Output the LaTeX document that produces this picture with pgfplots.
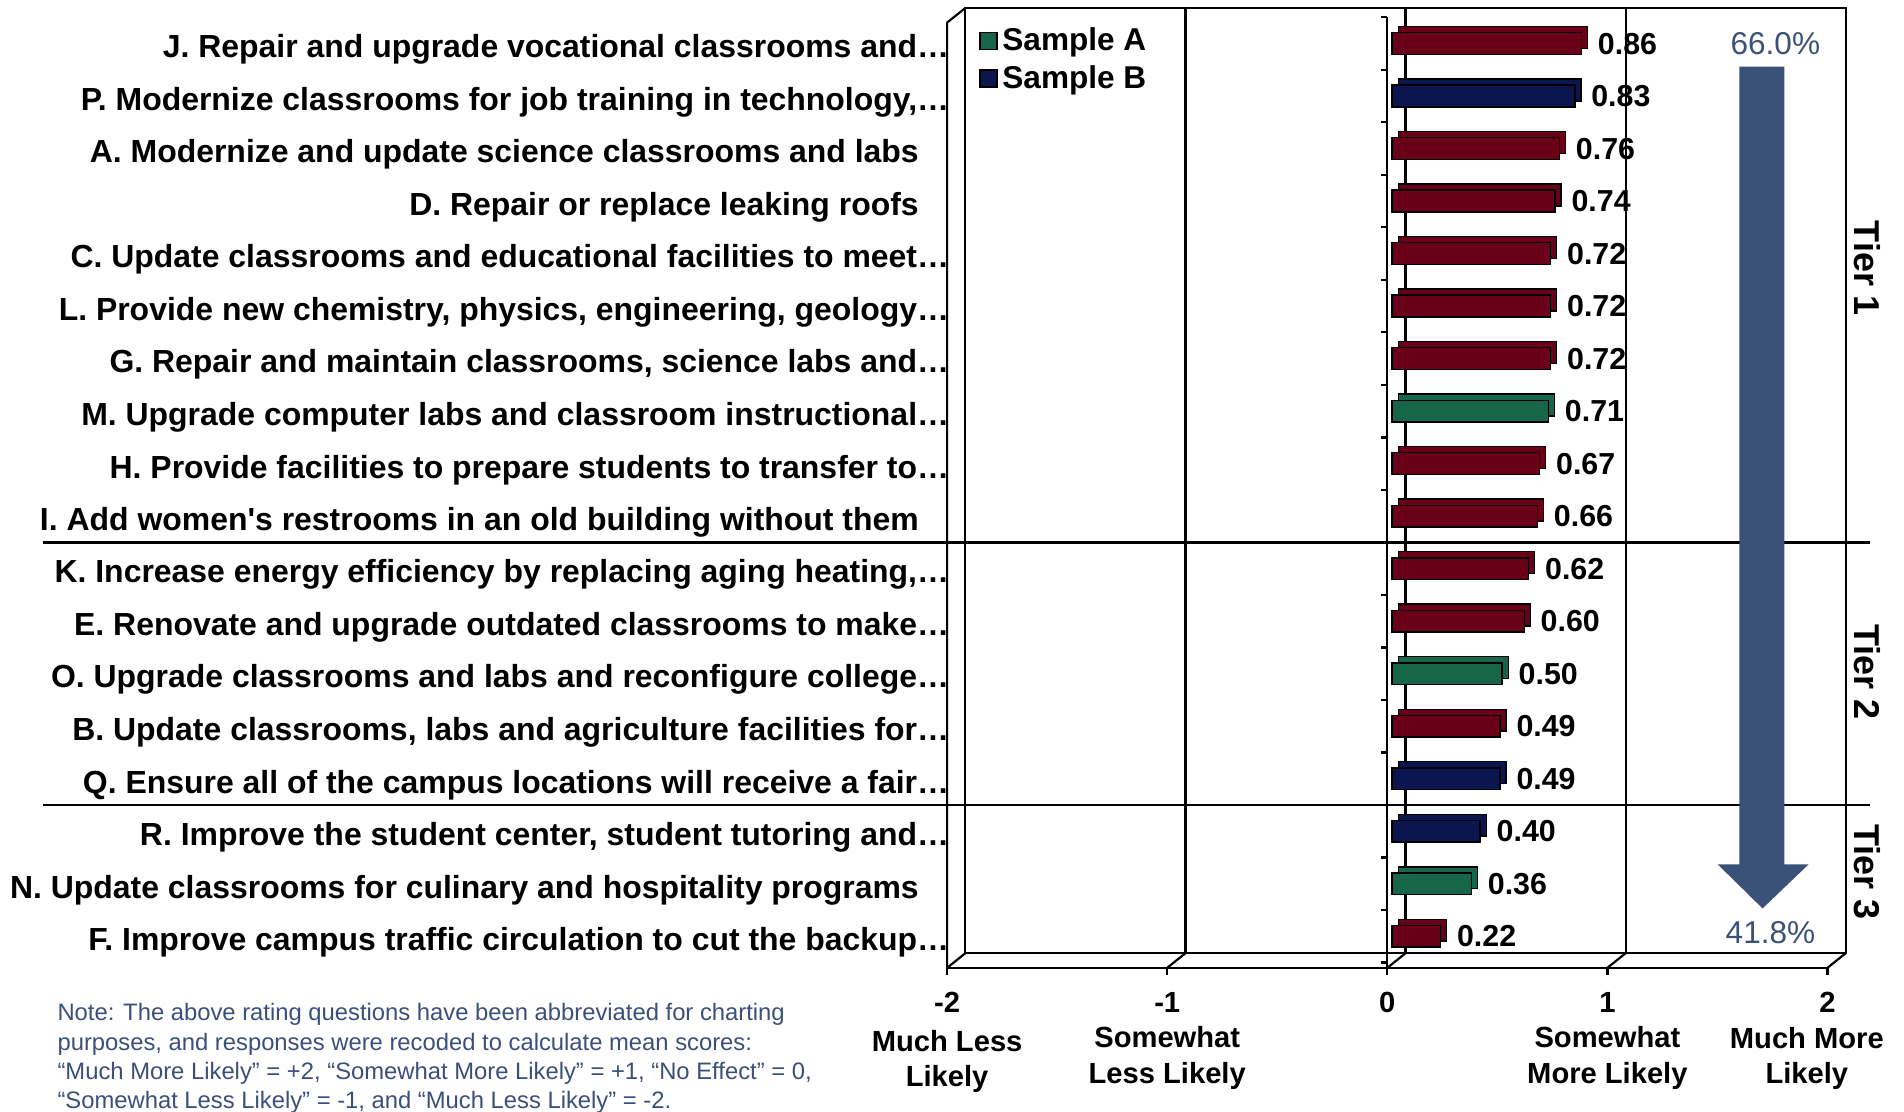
\documentclass[border=0pt]{standalone}
\usepackage{pgfplots}
\pgfplotsset{compat=1.18}
\usepackage{pgfplotstable}
\usetikzlibrary{calc}
\usepackage{fontspec}
\setmainfont{Liberation Sans}
\newfontfamily\nolig{Liberation Sans}
\definecolor{barred}{HTML}{6A0018}
\definecolor{bargreen}{HTML}{17664A}
\definecolor{barblue}{HTML}{0B1650}
\definecolor{slate}{HTML}{3A5278}
\definecolor{notecol}{HTML}{3A4F7A}
\pgfplotstableread{
v r
0.86 0
0.76 2
0.74 3
0.72 4
0.72 5
0.72 6
0.67 8
0.66 9
0.62 10
0.60 11
0.49 13
0.22 17
}\redtab
\pgfplotstableread{
v r
0.71 7
0.50 12
0.36 16
}\greentab
\pgfplotstableread{
v r
0.83 1
0.49 14
0.40 15
}\bluetab
\newcommand{\bk}[2]{($(axis cs:#1,#2)+(7.5pt,6pt)$)}
\begin{document}
\begin{tikzpicture}
\path[use as bounding box] (-390pt,-59pt) rectangle (394pt,398.5pt);
\begin{axis}[
  at={(0pt,0pt)}, anchor=south west,
  scale only axis, width=362.5pt, height=389.2pt,
  xmin=-2, xmax=2, ymin=-0.4, ymax=17.6, y dir=reverse,
  axis line style={draw=none}, tick style={draw=none},
  major tick length=0pt,
  clip=false,
  /pgf/number format/assume math mode=true,
  xtick={-2,-1,0,1,2},
  xticklabels={{-2\\[1.5pt]Much Less\\Likely},{-1\\Somewhat\\Less Likely},{0},{1\\Somewhat\\More Likely},{2\\Much More\rule{17pt}{0pt}\\Likely\rule{17pt}{0pt}}},
  xticklabel style={align=center, anchor=north, inner sep=0pt, yshift=-10pt, font=\bfseries\fontsize{12}{14.5}\selectfont},
  ytick={0,...,17},
  yticklabels={
    {J. Repair and upgrade vocational classrooms and…},
    {P. Modernize classrooms for job training in technology,…},
    {A. Modernize and update science classrooms and labs\rule{12.5pt}{0pt}},
    {D. Repair or replace leaking roofs\rule{12.5pt}{0pt}},
    {C. Update classrooms and educational facilities to meet…},
    {L. Provide new chemistry, physics, engineering, geology…},
    {G. Repair and maintain classrooms, science labs and…},
    {M. Upgrade computer labs and classroom instructional…},
    {H. Provide facilities to prepare students to transfer to…},
    {I. Add women{\nolig'}s restrooms in an old building without them\rule{12.5pt}{0pt}},
    {K. Increase energy efficiency by replacing aging heating,…},
    {E. Renovate and upgrade outdated classrooms to make…},
    {O. Upgrade classrooms and labs and reconfigure college…},
    {B. Update classrooms, labs and agriculture facilities for…},
    {Q. Ensure all of the campus locations will receive a fair…},
    {R. Improve the student center, student tutoring and…},
    {N. Update classrooms for culinary and hospitality programs\rule{12.5pt}{0pt}},
    {F. Improve campus traffic circulation to cut the backup…}},
  yticklabel style={anchor=east, inner sep=0pt, xshift=1pt, yshift=-2.5pt, font=\bfseries\fontsize{13.15}{15}\selectfont},
  legend style={at={(axis cs:-1.857,-0.4)}, anchor=north west, draw=none, fill=none,
    inner sep=0pt, font=\bfseries\fontsize{13}{15}\selectfont, row sep=0.5pt,
    /tikz/every even column/.append style={column sep=4pt}},
  legend image code/.code={\draw[#1,draw=black,line width=0.6pt] (0pt,-3.5pt) rectangle (7pt,3.5pt);},
  legend cell align=left,
]
% back wall and floor
\draw[line width=0.9pt] \bk{-2}{17.6} rectangle \bk{2}{-0.4};
\draw[line width=0.9pt] \bk{-1}{17.6} -- \bk{-1}{-0.4};
\draw[line width=0.9pt] \bk{0}{17.6} -- \bk{0}{-0.4};
\draw[line width=0.9pt] \bk{1}{17.6} -- \bk{1}{-0.4};
\draw[line width=0.9pt] (axis cs:-2,17.6) -- (axis cs:2,17.6);
\draw[line width=0.9pt] (axis cs:-2,17.6) -- (axis cs:-2,-0.4) -- \bk{-2}{-0.4};
\pgfplotsinvokeforeach{-2,-1,0,1,2}{
  \draw[line width=0.9pt] (axis cs:#1,17.6) -- \bk{#1}{17.6};
  \draw[line width=0.9pt] (axis cs:#1,17.6) -- ++(0pt,-3pt);
}
% category axis at zero
\draw[line width=0.9pt] (axis cs:0,-0.5) -- (axis cs:0,17.6);
\pgfplotsinvokeforeach{-0.5,0.5,1.5,2.5,3.5,4.5,5.5,6.5,7.5,8.5,9.5,10.5,11.5,12.5,13.5,14.5,15.5,16.5,17.5}{
  \draw[line width=0.9pt] (axis cs:0,#1) -- ++(-2.5pt,0pt);
}
% 3D depth of bars
\addplot[xbar, bar width=9pt, bar shift=0pt, fill=barred, draw=black, line width=0.6pt, xshift=4.5pt, yshift=2.5pt, forget plot] table[x=v,y=r] {\redtab};
\addplot[xbar, bar width=9pt, bar shift=0pt, fill=bargreen, draw=black, line width=0.6pt, xshift=4.5pt, yshift=2.5pt, forget plot] table[x=v,y=r] {\greentab};
\addplot[xbar, bar width=9pt, bar shift=0pt, fill=barblue, draw=black, line width=0.6pt, xshift=4.5pt, yshift=2.5pt, forget plot] table[x=v,y=r] {\bluetab};
% front faces
\addplot[xbar, bar width=9pt, bar shift=0pt, fill=barred, draw=black, line width=0.6pt, xshift=2pt, forget plot,
  nodes near coords={\pgfmathprintnumber[fixed,zerofill,precision=2]{\pgfplotspointmeta}},
  point meta=x,
  nodes near coords style={anchor=west, inner sep=0pt, xshift=6.5pt, font=\bfseries\fontsize{12.5}{15}\selectfont, text=black}] table[x=v,y=r] {\redtab};
\addplot[xbar, bar width=9pt, bar shift=0pt, fill=bargreen, draw=black, line width=0.6pt, xshift=2pt,
  nodes near coords={\pgfmathprintnumber[fixed,zerofill,precision=2]{\pgfplotspointmeta}},
  point meta=x,
  nodes near coords style={anchor=west, inner sep=0pt, xshift=6.5pt, font=\bfseries\fontsize{12.5}{15}\selectfont, text=black}] table[x=v,y=r] {\greentab};
\addlegendentry{Sample A}
\addplot[xbar, bar width=9pt, bar shift=0pt, fill=barblue, draw=black, line width=0.6pt, xshift=2pt,
  nodes near coords={\pgfmathprintnumber[fixed,zerofill,precision=2]{\pgfplotspointmeta}},
  point meta=x,
  nodes near coords style={anchor=west, inner sep=0pt, xshift=6.5pt, font=\bfseries\fontsize{12.5}{15}\selectfont, text=black}] table[x=v,y=r] {\bluetab};
\addlegendentry{Sample B}
% tier separators
\draw[line width=1pt] (axis cs:-6.11,9.5) -- (axis cs:2.193,9.5);
\draw[line width=1pt] (axis cs:-6.11,14.5) -- (axis cs:2.193,14.5);
% arrow
\fill[slate] (axis cs:1.600,0.44) -- (axis cs:1.804,0.44) -- (axis cs:1.804,15.63) -- (axis cs:1.914,15.63)
  -- (axis cs:1.705,16.47) -- (axis cs:1.501,15.63) -- (axis cs:1.600,15.63) -- cycle;
\node[text=slate, font=\fontsize{13}{15}\selectfont] at (axis cs:1.763,0) {66.0\%};
\node[text=slate, font=\fontsize{13}{15}\selectfont] at (axis cs:1.741,16.93) {41.8\%};
% tiers
\node[rotate=-90, font=\bfseries\fontsize{14.8}{17}\selectfont] at (axis cs:2.18,4.28) {Tier 1};
\node[rotate=-90, font=\bfseries\fontsize{14.8}{17}\selectfont] at (axis cs:2.18,11.96) {Tier 2};
\node[rotate=-90, font=\bfseries\fontsize{14.8}{17}\selectfont] at (axis cs:2.18,15.77) {Tier 3};
\end{axis}
\node[anchor=north west, align=left, inner sep=0pt, text=notecol, font=\fontsize{9.8}{12.1}\selectfont] at (-366.5pt,-14.5pt)
{Note: The above rating questions have been abbreviated for charting\\
purposes, and responses were recoded to calculate mean scores:\\
“Much More Likely” = +2, “Somewhat More Likely” = +1, “No Effect” = 0,\\
“Somewhat Less Likely” = -1, and “Much Less Likely” = -2.};
\end{tikzpicture}
\end{document}
